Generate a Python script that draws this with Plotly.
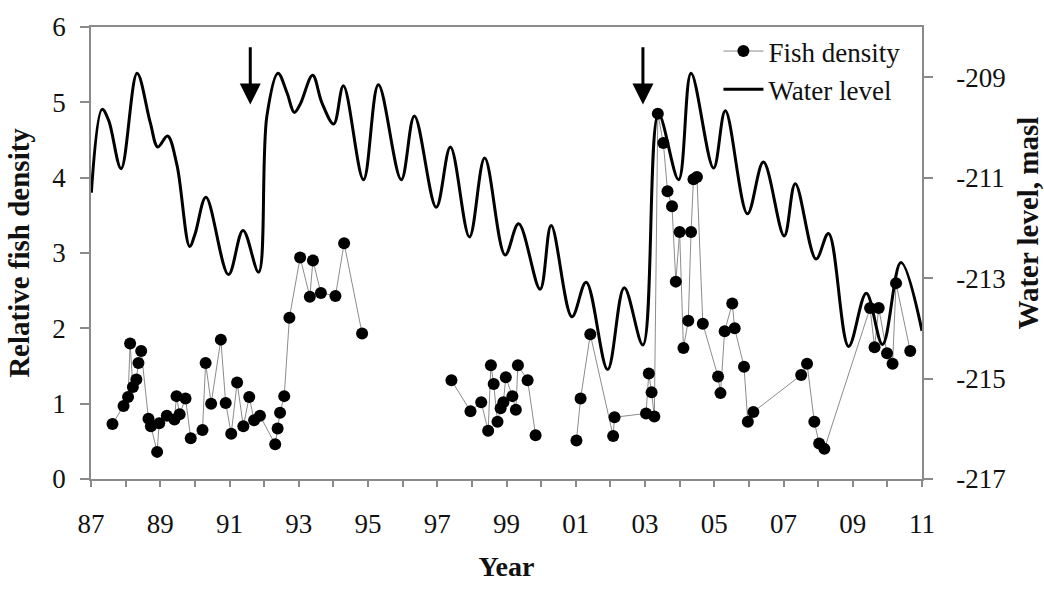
import plotly.graph_objects as go

# Relative fish density survey points (decimal years); None splits survey periods
fish_years_a = [1987.62, 1987.94, 1988.07, 1988.13, 1988.21, 1988.31, 1988.37, 1988.45,
                1988.66, 1988.73, 1988.91, 1988.97, 1989.19, 1989.41, 1989.47, 1989.56,
                1989.73, 1989.88, 1990.22, 1990.31, 1990.47, 1990.75, 1990.89, 1991.05,
                1991.22, 1991.40, 1991.57, 1991.71, 1991.88, 1992.32, 1992.39, 1992.46,
                1992.58, 1992.73, 1993.04, 1993.32, 1993.41, 1993.64, 1994.06, 1994.31,
                1994.83]
fish_density_a = [0.73, 0.97, 1.09, 1.80, 1.22, 1.32, 1.54, 1.70,
                  0.80, 0.70, 0.36, 0.74, 0.84, 0.79, 1.10, 0.86,
                  1.07, 0.54, 0.65, 1.54, 1.00, 1.85, 1.01, 0.60,
                  1.28, 0.70, 1.09, 0.78, 0.84, 0.46, 0.67, 0.88,
                  1.10, 2.14, 2.94, 2.42, 2.90, 2.47, 2.43, 3.13,
                  1.93]

fish_years_b = [1997.41, 1997.96, 1998.27, 1998.47, 1998.55, 1998.63, 1998.74, 1998.83,
                1998.91, 1998.98, 1999.17, 1999.27, 1999.33, 1999.61, 1999.84]
fish_density_b = [1.31, 0.90, 1.02, 0.64, 1.51, 1.26, 0.76, 0.94,
                  1.02, 1.35, 1.10, 0.92, 1.51, 1.31, 0.58]

fish_years_c = [2001.02, 2001.14, 2001.42, 2002.08, 2002.12, 2003.03, 2003.11, 2003.19,
                2003.27, 2003.37, 2003.53, 2003.65, 2003.78, 2003.89, 2004.00, 2004.11,
                2004.25, 2004.33, 2004.40, 2004.50, 2004.67, 2005.11, 2005.18, 2005.30,
                2005.52, 2005.59, 2005.86, 2005.97, 2006.13, 2007.51, 2007.68, 2007.89,
                2008.03, 2008.18, 2009.50, 2009.63, 2009.75, 2009.99, 2010.15, 2010.25,
                2010.66]
fish_density_c = [0.51, 1.07, 1.92, 0.57, 0.82, 0.87, 1.40, 1.15,
                  0.83, 4.85, 4.46, 3.82, 3.62, 2.62, 3.28, 1.74,
                  2.10, 3.28, 3.98, 4.01, 2.06, 1.36, 1.14, 1.96,
                  2.33, 2.00, 1.49, 0.76, 0.89, 1.38, 1.53, 0.76,
                  0.47, 0.40, 2.27, 1.75, 2.27, 1.67, 1.53, 2.60,
                  1.70]

# Water level, m above sea level
level_years = [1987.01, 1987.32, 1987.51, 1987.87, 1988.33, 1988.71, 1988.93, 1989.21,
               1989.48, 1989.85, 1990.01, 1990.32, 1990.97, 1991.39, 1991.84, 1992.08,
               1992.40, 1992.66, 1992.87, 1993.04, 1993.40, 1993.67, 1994.01, 1994.29,
               1994.87, 1995.30, 1995.96, 1996.34, 1996.97, 1997.38, 1997.93, 1998.37,
               1998.96, 1999.35, 1999.97, 2000.29, 2000.89, 2001.30, 2001.92, 2002.40,
               2002.94, 2003.39, 2003.97, 2004.33, 2004.98, 2005.32, 2005.96, 2006.42,
               2007.02, 2007.34, 2007.94, 2008.30, 2008.88, 2009.39, 2009.86, 2010.39,
               2011.00]
level_masl = [-211.30, -209.64, -209.86, -210.82, -208.92, -209.90, -210.39, -210.17,
              -210.74, -212.37, -212.11, -211.39, -212.93, -212.05, -212.88, -209.77,
              -208.92, -209.31, -209.70, -209.54, -208.96, -209.51, -209.93, -209.17,
              -211.04, -209.15, -211.04, -209.77, -211.59, -210.39, -212.18, -210.61,
              -212.54, -211.92, -213.22, -211.95, -213.77, -213.08, -214.82, -213.19,
              -214.33, -209.73, -211.04, -208.92, -210.81, -209.67, -211.72, -210.69,
              -212.16, -211.12, -212.62, -212.11, -214.36, -213.30, -214.32, -212.69,
              -214.05]

# Years of the two marked events (arrows)
event_years = [1991.60, 2002.94]

year_ticks = list(range(1987, 2012))
year_labels = [f"{y % 100:02d}" if y % 2 == 1 else "" for y in year_ticks]

level_ticks = [-217, -215, -213, -211, -209]
level_labels = [str(v) for v in level_ticks]

FONT = "Liberation Serif"
AXIS_GREY = "#8a8a8a"
PLOT_L, PLOT_R, PLOT_T, PLOT_B = 91, 922, 20, 480

fish_x = fish_years_a + [None] + fish_years_b + [None] + fish_years_c
fish_y = fish_density_a + [None] + fish_density_b + [None] + fish_density_c

fig = go.Figure()

fig.add_trace(go.Scatter(
    x=level_years, y=level_masl, yaxis="y2",
    mode="lines", name="Water level",
    line=dict(color="black", width=3, shape="spline", smoothing=1.0),
    legendrank=2,
))

fig.add_trace(go.Scatter(
    x=fish_x, y=fish_y,
    mode="lines+markers", name="Fish density",
    line=dict(color="#8c8c8c", width=1),
    marker=dict(color="black", size=12),
    connectgaps=False,
    legendrank=1,
))

for ev in event_years:
    fig.add_annotation(
        x=ev, y=4.97, xref="x", yref="y",
        ax=ev, ay=5.75, axref="x", ayref="y",
        showarrow=True, arrowhead=2, arrowsize=1.4, arrowwidth=3,
        arrowcolor="black", text="",
    )

# right-hand axis title, placed in paper units
fig.add_annotation(
    x=(1028 - PLOT_L) / (PLOT_R - PLOT_L), y=(PLOT_B - 220) / (PLOT_B - PLOT_T),
    xref="paper", yref="paper",
    text="<b>Water level, masl</b>", showarrow=False, textangle=-90,
    font=dict(family=FONT, size=29, color="#111111"),
    xanchor="center", yanchor="middle",
)

fig.update_layout(
    width=1044, height=589,
    margin=dict(l=PLOT_L, r=1044 - PLOT_R, t=PLOT_T, b=589 - PLOT_B),
    paper_bgcolor="white", plot_bgcolor="white",
    font=dict(family=FONT, size=27, color="#111111"),
    showlegend=True,
    legend=dict(
        x=0.755, y=1.0, xanchor="left", yanchor="top",
        bgcolor="rgba(255,255,255,0)", font=dict(family=FONT, size=27),
        itemwidth=40, tracegroupgap=0,
    ),
    xaxis=dict(
        range=[1987, 2011], tickvals=year_ticks, ticktext=year_labels,
        ticks="outside", ticklen=6, tickcolor=AXIS_GREY, tickwidth=1.5,
        showline=True, linecolor=AXIS_GREY, linewidth=1.5, mirror=True,
        showgrid=False, zeroline=False, ticklabelstandoff=14,
        tickfont=dict(family=FONT, size=27),
        title=dict(text="<b>Year</b>", font=dict(family=FONT, size=28), standoff=18),
    ),
    yaxis=dict(
        range=[0, 6], dtick=1, ticks="outside", ticklen=9,
        tickcolor=AXIS_GREY, tickwidth=1.5,
        showline=True, linecolor=AXIS_GREY, linewidth=1.5,
        showgrid=False, zeroline=False, ticklabelstandoff=9,
        tickfont=dict(family=FONT, size=27),
        title=dict(text="<b>Relative fish density</b>", font=dict(family=FONT, size=29), standoff=14),
    ),
    yaxis2=dict(
        range=[-217, -208], tickvals=level_ticks, ticktext=level_labels,
        overlaying="y", side="right", ticks="outside", ticklen=9,
        tickcolor=AXIS_GREY, tickwidth=1.5,
        showline=True, linecolor=AXIS_GREY, linewidth=1.5,
        showgrid=False, zeroline=False, ticklabelstandoff=18,
        tickfont=dict(family=FONT, size=27),
    ),
)

fig.write_html("out.html")
